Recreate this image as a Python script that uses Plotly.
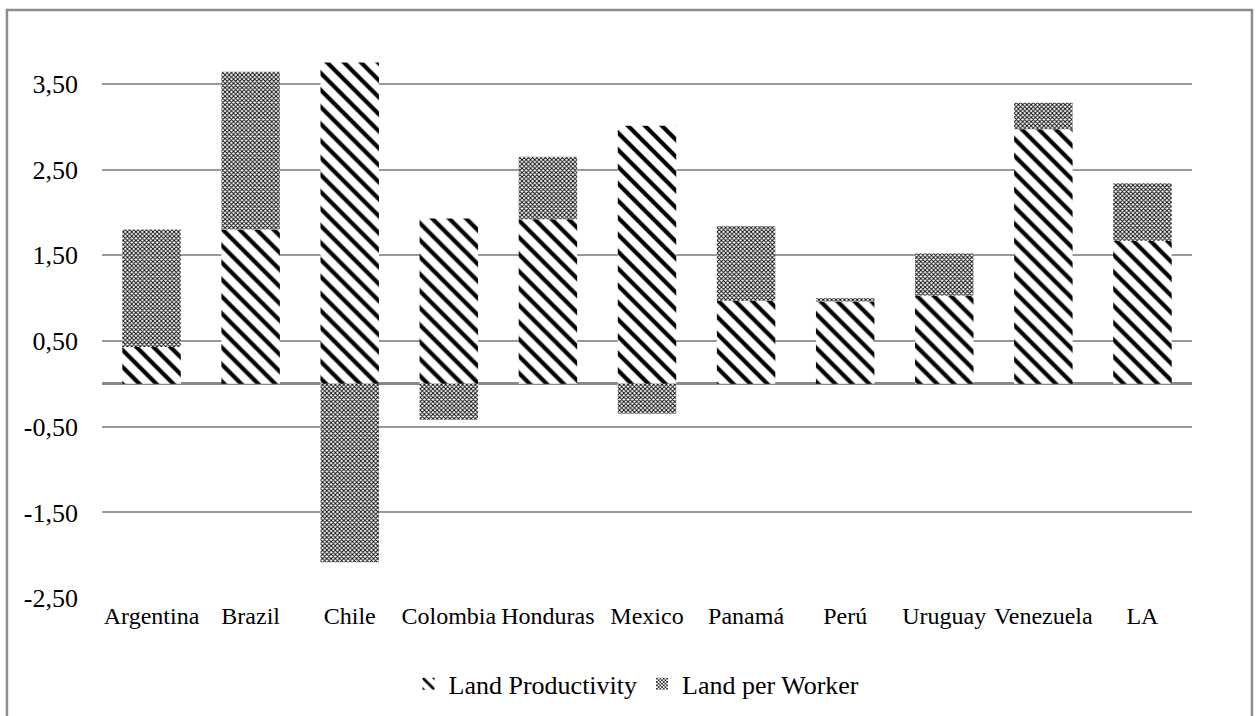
import plotly.graph_objects as go

countries = ["Argentina", "Brazil", "Chile", "Colombia", "Honduras", "Mexico",
             "Panamá", "Perú", "Uruguay", "Venezuela", "LA"]
land_productivity = [0.43, 1.80, 3.75, 1.93, 1.92, 3.01, 0.97, 0.96, 1.03, 2.97, 1.67]
land_per_worker = [1.37, 1.84, -2.08, -0.42, 0.73, -0.35, 0.87, 0.04, 0.49, 0.31, 0.67]
tick_vals = [3.5, 2.5, 1.5, 0.5, -0.5, -1.5, -2.5]
tick_text = ["3,50", "2,50", "1,50", "0,50", "-0,50", "-1,50", "-2,50"]

font = "Liberation Serif"

fig = go.Figure()
fig.add_trace(go.Bar(
    x=countries, y=land_productivity, name="Land Productivity",
    marker=dict(color="white", line=dict(width=0),
                pattern=dict(shape="\\", fgcolor="black", bgcolor="white",
                             fgopacity=1, size=12, solidity=0.35)),
))
fig.add_trace(go.Bar(
    x=countries, y=land_per_worker, name="Land per Worker",
    marker=dict(color="white", line=dict(width=0),
                pattern=dict(shape="x", fgcolor="black", bgcolor="white",
                             fgopacity=1, size=3, solidity=0.5)),
))

fig.update_layout(
    width=1259, height=716,
    barmode="relative", bargap=0.41,
    paper_bgcolor="white", plot_bgcolor="white",
    margin=dict(l=102, r=67, t=41, b=117, autoexpand=False),
    font=dict(family=font, size=24, color="black"),
    showlegend=True,
    legend=dict(orientation="h", x=0.5056, xanchor="center", xref="container",
                y=0.045, yanchor="middle", yref="container",
                font=dict(family=font, size=26, color="black"),
                traceorder="normal", itemsizing="constant", itemwidth=30),
    xaxis=dict(showgrid=False, showline=False, ticks="",
               tickfont=dict(family=font, size=24, color="black")),
    yaxis=dict(range=[-2.51, 4.0], tickvals=tick_vals, ticktext=tick_text,
               showgrid=True, gridcolor="#999999", gridwidth=1.5,
               zeroline=True, zerolinecolor="#888888", zerolinewidth=2.5,
               showline=False, ticks="", ticklabelstandoff=23,
               tickfont=dict(family=font, size=26, color="black")),
    shapes=[dict(type="rect", xref="paper", yref="paper",
                 x0=-0.0872, x1=1.055, y0=-0.4, y1=1.0556,
                 line=dict(color="#8c8c8c", width=2.5), layer="below")],
)

fig.write_html("out.html",
               config={"displayModeBar": False},
               post_script="document.body.style.margin='0';"
                           "document.body.style.overflow='hidden';")
